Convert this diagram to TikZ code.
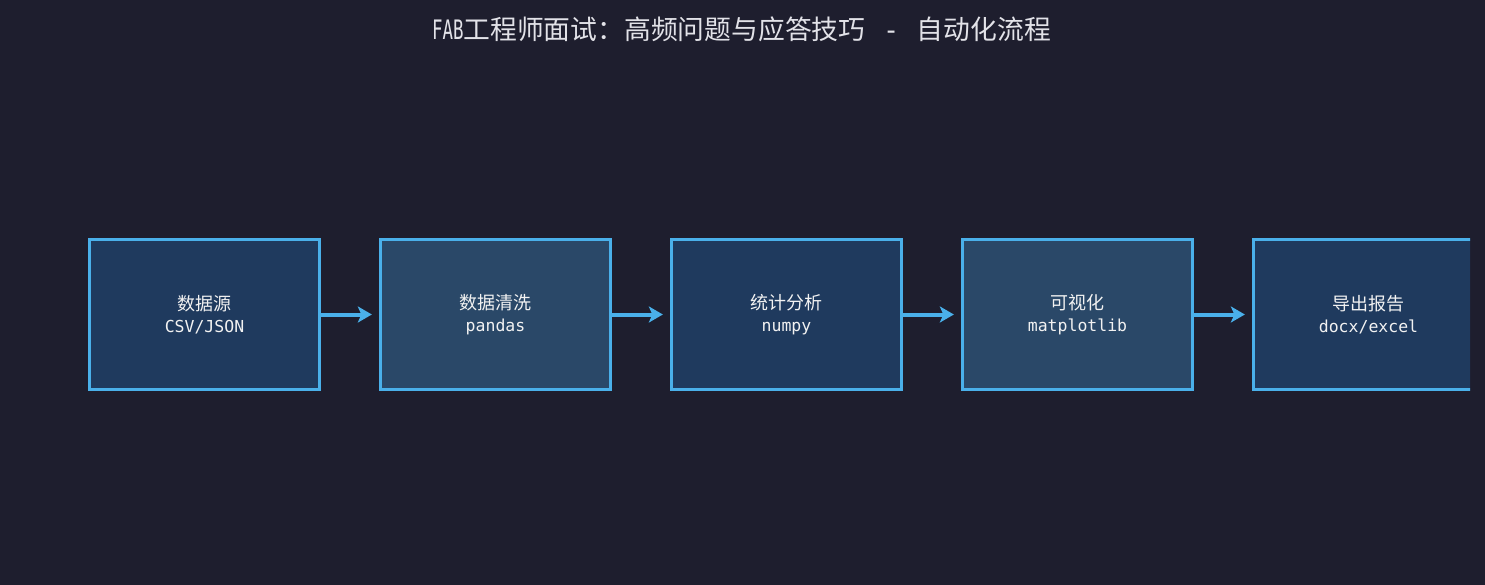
\documentclass[tikz,border=0pt]{standalone}
\usepackage{fontspec}
\setmainfont{DejaVu Sans Mono}
\newfontfamily\cjk{Noto Sans CJK SC}
\newfontfamily\titlelat[FakeStretch=0.65]{DejaVu Sans Mono}
\usetikzlibrary{arrows.meta}
\definecolor{bgc}{HTML}{1E1E2E}
\definecolor{fillA}{HTML}{1F3A5E}
\definecolor{fillB}{HTML}{2A4868}
\definecolor{edgec}{HTML}{4AB0EA}
\definecolor{titlec}{HTML}{E2E2E8}
\definecolor{textc}{HTML}{F2F2F2}
\tikzset{
  stagebox/.style={draw=edgec, line width=3.3bp, minimum width=230bp, minimum height=150bp,
    inner sep=0pt, align=center, text=textc, font=\fontsize{16.5bp}{22bp}\selectfont},
  flowarrow/.style={draw=edgec, line width=4bp, -{Stealth[length=14bp,width=16bp,inset=3.5bp]}},
}
\begin{document}
\begin{tikzpicture}[x=1bp,y=-1bp]
\fill[bgc] (0,0) rectangle (1485,585);
\useasboundingbox (0,0) rectangle (1485,585);
\node[text=titlec, font=\fontsize{26.8bp}{30bp}\selectfont, inner sep=0pt] (title) at (741.5,29)
  {{\titlelat FAB}{\cjk 工程师面试：高频问题与应答技巧}\hspace{1.5bp}{\rmfamily\ -\ }\hspace{1.5bp}{\cjk 自动化流程}};
\begin{scope}
\clip (0,0) rectangle (1470,585);
\node[stagebox, fill=fillA] (b1) at (204.5,314.5) {{\cjk\fontsize{18bp}{22bp}\selectfont 数据源}\\CSV/JSON};
\node[stagebox, fill=fillB] (b2) at (495.5,314.5) {{\cjk\fontsize{18bp}{22bp}\selectfont 数据清洗}\\pandas};
\node[stagebox, fill=fillA] (b3) at (786.5,314.5) {{\cjk\fontsize{18bp}{22bp}\selectfont 统计分析}\\numpy};
\node[stagebox, fill=fillB] (b4) at (1077.5,314.5) {{\cjk\fontsize{18bp}{22bp}\selectfont 可视化}\\matplotlib};
\node[stagebox, fill=fillA] (b5) at (1368.5,314.5) {{\cjk\fontsize{18bp}{22bp}\selectfont 导出报告}\\docx/excel};
\end{scope}
\draw[flowarrow] (b1.east) -- ([xshift=-7bp]b2.west);
\draw[flowarrow] (b2.east) -- ([xshift=-7bp]b3.west);
\draw[flowarrow] (b3.east) -- ([xshift=-7bp]b4.west);
\draw[flowarrow] (b4.east) -- ([xshift=-7bp]b5.west);
\end{tikzpicture}
\end{document}
